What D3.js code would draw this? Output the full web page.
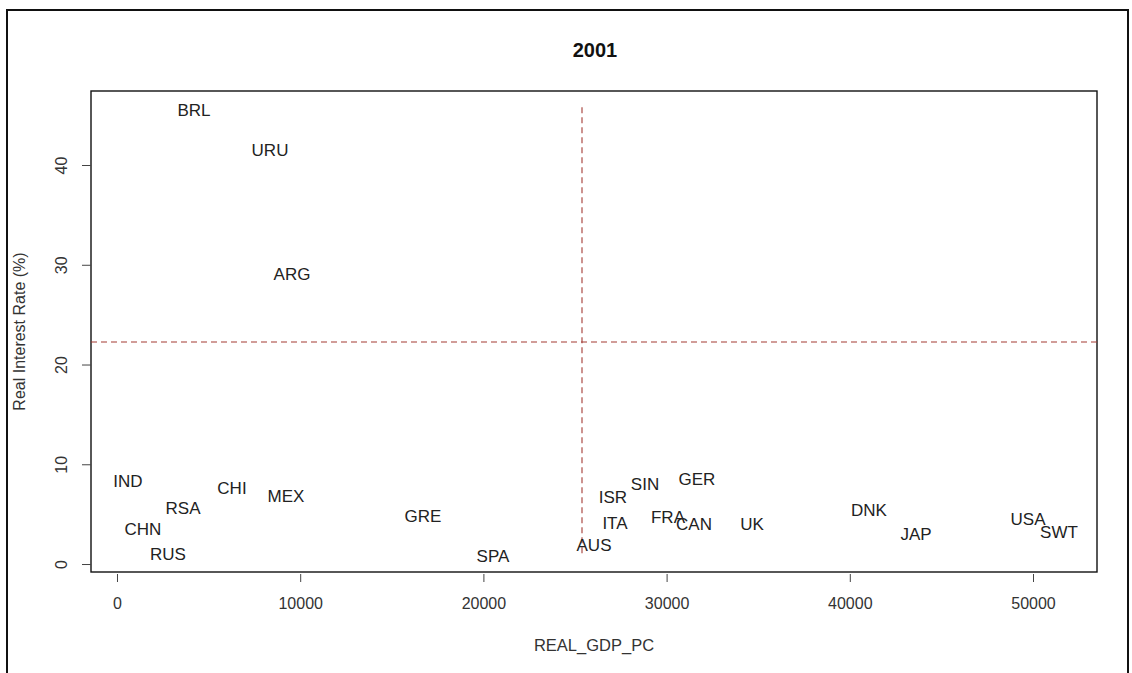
<!DOCTYPE html>
<html>
<head>
<meta charset="utf-8">
<script src="https://cdn.jsdelivr.net/npm/d3@7"></script>
<style>
  html, body { margin: 0; padding: 0; background: #fff; }
  svg { display: block; }
  text { font-family: "Liberation Sans", Arial, sans-serif; }
</style>
</head>
<body>
<svg id="chart" width="1132" height="673"></svg>
<script>
// ---- data ----
const countries = ["BRL","URU","ARG","IND","CHI","MEX","RSA","GRE","CHN","RUS","SPA","AUS","ISR","SIN","GER","ITA","FRA","CAN","UK","DNK","JAP","USA","SWT"];
const gdpPerCapita = [4203, 8352, 9552, 600, 6277, 9225, 3603, 16703, 1419, 2784, 20524, 26037, 27074, 28821, 31659, 27183, 30076, 31496, 34662, 41048, 43614, 49727, 51419];
const interestRate = [45.5, 41.5, 29.0, 8.3, 7.6, 6.8, 5.6, 4.8, 3.5, 1.0, 0.8, 1.9, 6.7, 8.0, 8.5, 4.1, 4.7, 4.0, 4.0, 5.4, 3.0, 4.5, 3.2];
const xTicks = [0, 10000, 20000, 30000, 40000, 50000];
const yTicks = [0, 10, 20, 30, 40];
const xLimits = [-1419, 53493];
const yLimits = [-0.8, 47.42];
const meanGdp = 25382;
const meanRate = 22.26;
const title = "2001";
const xTitle = "REAL_GDP_PC";
const yTitle = "Real Interest Rate (%)";

// ---- layout ----
const svg = d3.select("#chart");
const box = { left: 91, right: 1097, top: 91, bottom: 572 };

const x = d3.scaleLinear().domain(xLimits).range([box.left, box.right]);
const y = d3.scaleLinear().domain(yLimits).range([box.bottom, box.top]);

// outer frame
svg.append("path")
  .attr("d", `M7,673 L7,10 L1128,10 L1128,673`)
  .attr("fill", "none").attr("stroke", "#111").attr("stroke-width", 2);

// title
svg.append("text").attr("x", 595).attr("y", 50)
  .attr("text-anchor", "middle").attr("dominant-baseline", "central")
  .attr("font-weight", "bold").attr("font-size", 20)
  .attr("fill", "#111").text(title);

// plot box
svg.append("rect").attr("x", box.left).attr("y", box.top)
  .attr("width", box.right - box.left).attr("height", box.bottom - box.top)
  .attr("fill", "none").attr("stroke", "#111").attr("stroke-width", 1.4);

// x axis
const xAxis = d3.axisBottom(x).tickValues(xTicks).tickSize(10).tickPadding(0).tickFormat(d3.format("d"));
const gx = svg.append("g").attr("transform", `translate(0,${box.bottom})`).call(xAxis);
gx.select(".domain").remove();
gx.selectAll(".tick line").attr("stroke", "#444").attr("y1", 2);
gx.selectAll(".tick text").attr("font-size", 16).attr("fill", "#333")
  .attr("font-family", "Liberation Sans, Arial, sans-serif")
  .attr("y", 31).attr("dy", 0).attr("dominant-baseline", "central");

// y axis
const yAxis = d3.axisLeft(y).tickValues(yTicks).tickSize(9).tickPadding(0).tickFormat(d3.format("d"));
const gy = svg.append("g").attr("transform", `translate(${box.left},0)`).call(yAxis);
gy.select(".domain").remove();
gy.selectAll(".tick line").attr("stroke", "#444");
gy.selectAll(".tick text").attr("font-size", 16).attr("fill", "#333")
  .attr("font-family", "Liberation Sans, Arial, sans-serif")
  .attr("text-anchor", "middle").attr("x", 0).attr("dy", 0)
  .attr("transform", "translate(-30,0) rotate(-90)")
  .attr("dominant-baseline", "central");

// axis titles
svg.append("text").attr("x", 594).attr("y", 645)
  .attr("text-anchor", "middle").attr("dominant-baseline", "central")
  .attr("font-size", 16.5).attr("fill", "#333").text(xTitle);
svg.append("text")
  .attr("transform", `translate(19,${(box.top + box.bottom) / 2}) rotate(-90)`)
  .attr("text-anchor", "middle").attr("dominant-baseline", "central")
  .attr("font-size", 16).attr("fill", "#333").text(yTitle);

// reference lines
const lineColor = "#a33a33";
svg.append("line")
  .attr("x1", box.left).attr("x2", box.right)
  .attr("y1", y(meanRate)).attr("y2", y(meanRate))
  .attr("stroke", lineColor).attr("stroke-width", 1.1).attr("stroke-dasharray", "6,4");
const yr = d3.extent(interestRate);
svg.append("line")
  .attr("x1", x(meanGdp)).attr("x2", x(meanGdp))
  .attr("y1", y(yr[1]) - 3).attr("y2", y(yr[0]))
  .attr("stroke", lineColor).attr("stroke-width", 1.1).attr("stroke-dasharray", "6,4");

// labels
const data = countries.map((c, i) => ({ c, gdp: gdpPerCapita[i], r: interestRate[i] }));
svg.append("g").selectAll("text").data(data).join("text")
  .attr("x", d => x(d.gdp)).attr("y", d => y(d.r))
  .attr("text-anchor", "middle").attr("dominant-baseline", "central")
  .attr("font-size", 17).attr("fill", "#222").text(d => d.c);
</script>
</body>
</html>
